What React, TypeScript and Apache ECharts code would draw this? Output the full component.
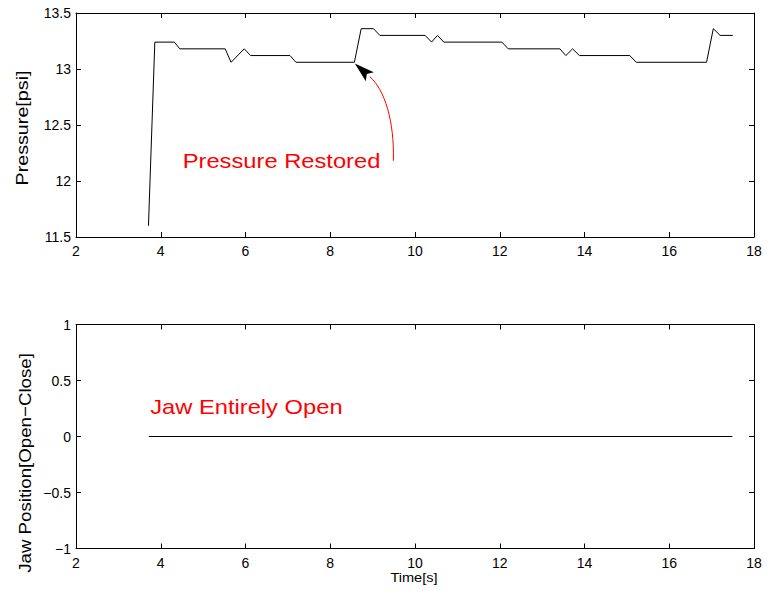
import React, { useEffect, useRef } from "react";
import * as echarts from "echarts";

// ---- data ----
const timeS = [3.71, 3.86, 4.32, 4.45, 5.52, 5.66, 5.97, 6.12, 7.05, 7.19, 8.57, 8.73, 9.02, 9.17, 10.24, 10.39, 10.53, 10.68, 12.05, 12.2, 13.42, 13.56, 13.72, 13.88, 15.07, 15.22, 16.88, 17.04, 17.2, 17.5];
const pressurePsi = [11.6, 13.24, 13.24, 13.18, 13.18, 13.06, 13.18, 13.12, 13.12, 13.06, 13.06, 13.36, 13.36, 13.3, 13.3, 13.24, 13.3, 13.24, 13.24, 13.18, 13.18, 13.12, 13.18, 13.12, 13.12, 13.06, 13.06, 13.36, 13.3, 13.3];
const jawTime = [3.72, 17.49];
const jawPosition = [0, 0];

const xRange = [2, 18];
const xStep = 2;
const pressureRange = [11.5, 13.5];
const pressureStep = 0.5;
const jawRange = [-1, 1];
const jawStep = 0.5;

const arrowFrom = [9.49, 12.18];
const arrowTo = [8.58, 13.05];
const pressureLabel = "Pressure Restored";
const pressureLabelAt = [6.85, 12.18];
const jawLabel = "Jaw Entirely Open";
const jawLabelAt = [6.02, 0.26];

const FONT = "Liberation Sans, Arial, Helvetica, sans-serif";

const fmt = (v: number) => String(v).replace("-", "\u2212");

function mainX(gridIndex: number) {
  return {
    type: "value",
    gridIndex,
    position: "bottom",
    min: xRange[0],
    max: xRange[1],
    interval: xStep,
    axisLine: { show: true, onZero: false, lineStyle: { color: "#000", width: 1 } },
    axisTick: { show: true, inside: true, length: 5, lineStyle: { color: "#000" } },
    axisLabel: { show: true, color: "#000", fontSize: 14, fontFamily: FONT, margin: 7, formatter: fmt, showMinLabel: true, showMaxLabel: true },
    splitLine: { show: false },
  };
}
function mirrorX(gridIndex: number) {
  return {
    type: "value",
    gridIndex,
    position: "top",
    min: xRange[0],
    max: xRange[1],
    interval: xStep,
    axisLine: { show: true, onZero: false, lineStyle: { color: "#000", width: 1 } },
    axisTick: { show: true, inside: true, length: 5, lineStyle: { color: "#000" } },
    axisLabel: { show: false },
    splitLine: { show: false },
  };
}
function mainY(gridIndex: number, range: number[], step: number) {
  return {
    type: "value",
    gridIndex,
    position: "left",
    min: range[0],
    max: range[1],
    interval: step,
    axisLine: { show: true, onZero: false, lineStyle: { color: "#000", width: 1 } },
    axisTick: { show: true, inside: true, length: 5, lineStyle: { color: "#000" } },
    axisLabel: { show: true, color: "#000", fontSize: 14, fontFamily: FONT, margin: 5, formatter: fmt, showMinLabel: true, showMaxLabel: true },
    splitLine: { show: false },
  };
}
function mirrorY(gridIndex: number, range: number[], step: number) {
  return {
    type: "value",
    gridIndex,
    position: "right",
    min: range[0],
    max: range[1],
    interval: step,
    axisLine: { show: true, onZero: false, lineStyle: { color: "#000", width: 1 } },
    axisTick: { show: true, inside: true, length: 5, lineStyle: { color: "#000" } },
    axisLabel: { show: false },
    splitLine: { show: false },
  };
}

export default function App() {
  const ref = useRef<HTMLDivElement>(null);
  useEffect(() => {
    document.body.style.margin = "0";
    if (!ref.current) return;
    const chart = echarts.init(ref.current, null, { renderer: "svg" });
    chart.setOption({
      animation: false,
      backgroundColor: "#fff",
      grid: [
        { left: 76, top: 13, width: 678, height: 224 },
        { left: 76, top: 324.5, width: 678, height: 224 },
      ],
      xAxis: [mainX(0), mirrorX(0), mainX(1), mirrorX(1)],
      yAxis: [
        mainY(0, pressureRange, pressureStep),
        mirrorY(0, pressureRange, pressureStep),
        mainY(1, jawRange, jawStep),
        mirrorY(1, jawRange, jawStep),
      ],
      series: [
        {
          type: "line",
          xAxisIndex: 0,
          yAxisIndex: 0,
          data: timeS.map((t, i) => [t, pressurePsi[i]]),
          showSymbol: false,
          lineStyle: { color: "#000", width: 1 },
          silent: true,
        },
        {
          type: "line",
          xAxisIndex: 2,
          yAxisIndex: 2,
          data: jawTime.map((t, i) => [t, jawPosition[i]]),
          showSymbol: false,
          lineStyle: { color: "#000", width: 1 },
          silent: true,
        },
      ],
    });

    const p = (v: number[]) => chart.convertToPixel({ xAxisIndex: 0, yAxisIndex: 0 }, v) as number[];
    const q = (v: number[]) => chart.convertToPixel({ xAxisIndex: 2, yAxisIndex: 2 }, v) as number[];
    const S = p(arrowFrom);
    const T = p(arrowTo);
    const dl = Math.hypot(15, 13.3);
    const d = [-15 / dl, -13.3 / dl];
    const headLen = 20;
    const headHalf = 6;
    const B = [T[0] - d[0] * headLen, T[1] - d[1] * headLen];
    const n = [-d[1], d[0]];
    const P1 = [S[0] + 1, S[1] - 40];
    const P2 = [B[0] - d[0] * 20, B[1] - d[1] * 20];
    const PL = p(pressureLabelAt);
    const JL = q(jawLabelAt);

    chart.setOption({
      graphic: [
        {
          type: "bezierCurve",
          shape: { x1: S[0], y1: S[1], cpx1: P1[0], cpy1: P1[1], cpx2: P2[0], cpy2: P2[1], x2: B[0], y2: B[1] },
          style: { stroke: "#ff0000", lineWidth: 1, fill: null },
          silent: true,
        },
        {
          type: "polygon",
          shape: {
            points: [
              [T[0], T[1]],
              [B[0] + n[0] * headHalf, B[1] + n[1] * headHalf],
              [B[0] + d[0] * 4, B[1] + d[1] * 4],
              [B[0] - n[0] * headHalf, B[1] - n[1] * headHalf],
            ],
          },
          style: { fill: "#000" },
          silent: true,
        },
        {
          type: "text",
          x: PL[0],
          y: PL[1],
          scaleX: 1.13,
          style: { text: pressureLabel, fill: "#ff0000", font: `21px ${FONT}`, align: "center", verticalAlign: "middle" },
          silent: true,
        },
        {
          type: "text",
          x: JL[0],
          y: JL[1],
          scaleX: 1.13,
          style: { text: jawLabel, fill: "#ff0000", font: `21px ${FONT}`, align: "center", verticalAlign: "middle" },
          silent: true,
        },
        {
          type: "text",
          x: 22,
          y: 128,
          rotation: Math.PI / 2,
          scaleX: 1.16,
          style: { text: "Pressure[psi]", fill: "#000", font: `17px ${FONT}`, align: "center", verticalAlign: "middle" },
          silent: true,
        },
        {
          type: "text",
          x: 25,
          y: 463,
          rotation: Math.PI / 2,
          scaleX: 1.1,
          style: { text: "Jaw Position[Open\u2212Close]", fill: "#000", font: `17px ${FONT}`, align: "center", verticalAlign: "middle" },
          silent: true,
        },
        {
          type: "text",
          x: 414,
          y: 578,
          scaleX: 1.12,
          style: { text: "Time[s]", fill: "#000", font: `13px ${FONT}`, align: "center", verticalAlign: "middle" },
          silent: true,
        },
      ],
    });

    return () => chart.dispose();
  }, []);
  return <div ref={ref} style={{ width: 767, height: 594 }} />;
}
